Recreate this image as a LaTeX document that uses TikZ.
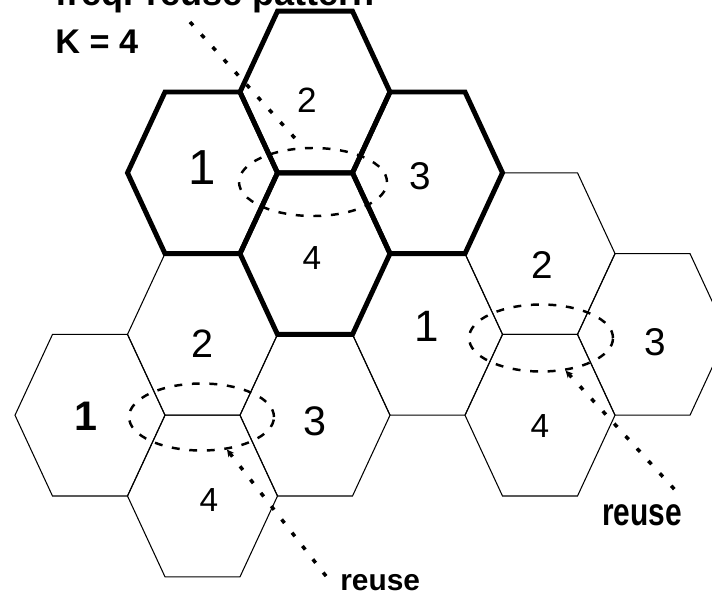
\documentclass[tikz,border=0pt]{standalone}
\usepackage{fontspec}
\setmainfont{Liberation Sans}
\usetikzlibrary{arrows.meta,shapes.geometric}

\tikzset{
  cell/.style={draw, line width=0.6pt},
  boldcell/.style={draw, line width=2.8pt},
  ring/.style={draw, ellipse, inner sep=0pt, line width=1.4pt, dash pattern=on 4.5pt off 5.5pt},
  leader/.style={line width=2pt, dash pattern=on 2.6pt off 7pt},
  digit/.style={inner sep=0pt},
  tag/.style={inner sep=0pt, anchor=base west, font=\bfseries\fontsize{17}{17}\selectfont}
}

\begin{document}
\begin{tikzpicture}[x=0.02cm, y=-0.02cm]
  \useasboundingbox (0,0) rectangle (712,595);

  % plain cells of the two neighbouring clusters
  \foreach \cx/\cy in {427.5/334.4, 540/253.6, 652.5/334.4, 540/415.2,
                       90/415.2, 202.5/334.4, 315/415.2, 202.5/496}
    \draw[cell] (\cx-75,\cy) -- ++(37.5,-80.8) -- ++(75,0) -- ++(37.5,80.8)
      -- ++(-37.5,80.8) -- ++(-75,0) -- cycle;

  % highlighted cluster
  \foreach \cx/\cy in {202.5/172.8, 315/92, 427.5/172.8, 315/253.6}
    \draw[boldcell] (\cx-75,\cy) -- ++(37.5,-80.8) -- ++(75,0) -- ++(37.5,80.8)
      -- ++(-37.5,80.8) -- ++(-75,0) -- cycle;

  % channel numbers
  \foreach \nm/\x/\y/\txt/\sz in {tone/202/168/1/28, ttwo/307/100/2/20,
      tthree/420/176/3/22, tfour/312/258/4/19,
      rone/427/326/1/25, rtwo/542/265/2/22, rthree/655/342/3/22, rfour/540/426/4/19,
      ltwo/202/344/2/22.5, lthree/315/421/3/23.5, lfour/209/500/4/19}
    \node[digit, font=\fontsize{\sz}{\sz}\selectfont] (\nm) at (\x,\y) {\txt};
  \node[digit, font=\bfseries\fontsize{23.5}{23.5}\selectfont] (lone) at (86,416) {1};

  % reuse rings
  \node[ring, minimum width=148*0.02cm, minimum height=68*0.02cm] (ringT) at (313,182) {};
  \node[ring, minimum width=144*0.02cm, minimum height=67*0.02cm] (ringR) at (541,338) {};
  \node[ring, minimum width=145*0.02cm, minimum height=67*0.02cm] (ringL) at (201.5,417) {};

  % texts
  \node[tag, font=\bfseries\fontsize{20.5}{20.5}\selectfont] (title) at (55,6) {freq. reuse pattern};
  \node[tag, font=\bfseries\fontsize{19.5}{19.5}\selectfont] (kval) at (55,53) {K = 4};
  \node[tag] (reuseR) at (602,525) {\scalebox{1}[1.3]{reuse}};
  \node[tag] (reuseL) at (340,590) {reuse};

  % leaders
  \coordinate (kend) at (190,22);
  \coordinate (rend) at (676,491);
  \coordinate (lend) at (333,585);
  \draw[leader, shorten >=5*0.02cm] (kend) -- (ringT.106);
  \draw[leader, {Stealth[length=4pt,width=4pt]}-] (ringR.-53) -- (rend);
  \draw[leader, {Stealth[length=4pt,width=4pt]}-] (ringL.-52) -- (lend);
\end{tikzpicture}
\end{document}
